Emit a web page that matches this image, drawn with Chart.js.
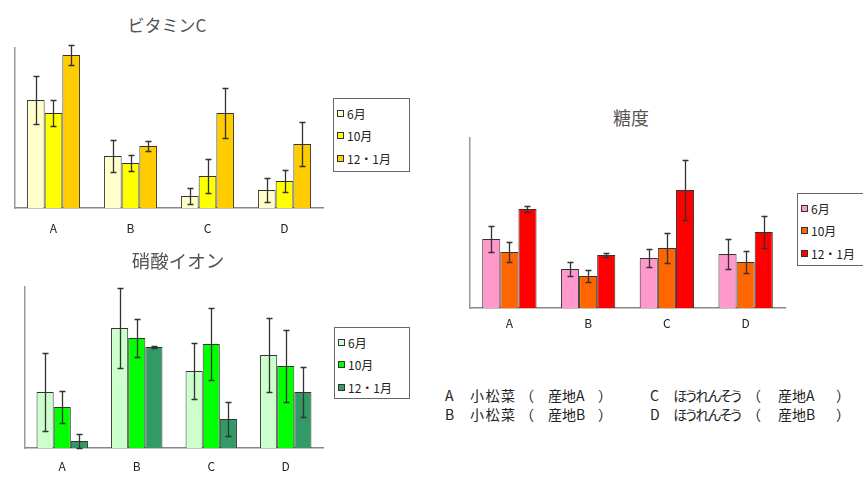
<!DOCTYPE html>
<html>
<head>
<meta charset="utf-8">
<script src="https://cdn.jsdelivr.net/npm/chart.js@4.4.1/dist/chart.umd.min.js"></script>
<style>
  body { margin: 0; background: #fff; }
  #page { position: relative; width: 863px; height: 479px; overflow: hidden; background: #fff;
          font-family: "Noto Sans CJK JP", sans-serif; color: #222; }
  .plot { position: absolute; }
  .title { position: absolute; font-size: 17px; color: #555; transform: translateX(-50%);
           white-space: nowrap; line-height: 1; }
  .legend { position: absolute; border: 1px solid #666; box-sizing: border-box;
            background: #fff; padding-top: 3px; }
  .legend .item { display: flex; align-items: center; font-size: 12px; height: 22.5px; white-space: nowrap; }
  .legend .sw { width: 7px; height: 7px; border: 1px solid #333; margin: 0 3px 0 3px; box-sizing: border-box; }
  .note { position: absolute; font-size: 14px; line-height: 1; white-space: nowrap; color: #222; }
  .kanji { letter-spacing: 1.5px; }
  .kana { font-feature-settings: "palt"; letter-spacing: -1.6px; }
</style>
</head>
<body>
<div id="page">
  <div class="title" style="left:167px;top:16px;">ビタミンC</div>
  <div class="plot" style="left:0;top:20px;width:330px;height:229px;"><canvas id="vc"></canvas></div>
  <div class="legend" id="vcLegend" style="left:333px;top:98px;width:77px;height:74px;"></div>

  <div class="title" style="left:178px;top:251px;font-size:18.5px;">硝酸イオン</div>
  <div class="plot" style="left:0;top:260px;width:330px;height:225px;"><canvas id="no3"></canvas></div>
  <div class="legend" id="no3Legend" style="left:334px;top:327px;width:76px;height:72px;"></div>

  <div class="title" style="left:631px;top:108px;font-size:18px;">糖度</div>
  <div class="plot" style="left:440px;top:110px;width:355px;height:229px;"><canvas id="brix"></canvas></div>
  <div class="legend" id="brixLegend" style="left:797px;top:193px;width:80px;height:73px;"></div>

  <div id="notes"></div>
</div>

<script>
// 品目（A〜D）と採取時期
const categories = ['A', 'B', 'C', 'D'];
const seasons = ['6月', '10月', '12・1月'];

// 凡例の説明文
const itemNames = ['小松菜', '小松菜', 'ほうれんそう', 'ほうれんそう'];
const origins = ['産地A', '産地B', '産地A', '産地B'];

// ビタミンC（目盛なし、相対値）
const vcJune = [108, 52, 12, 18];
const vcOct = [95, 45, 32, 27];
const vcDec = [153, 62, 95, 64];
const vcJuneErr = [24, 16, 8, 12];
const vcOctErr = [13, 8, 17, 11];
const vcDecErr = [10, 5, 25, 22];

// 硝酸イオン
const no3June = [56, 120, 77, 93];
const no3Oct = [41, 110, 104, 82];
const no3Dec = [7, 101, 29, 56];
const no3JuneErr = [39, 40, 28, 37];
const no3OctErr = [16, 19, 36, 36];
const no3DecErr = [7, 1, 17, 25];

// 糖度
const brixJune = [69, 39, 50, 54];
const brixOct = [56, 32, 60, 46];
const brixDec = [99, 53, 118, 76];
const brixJuneErr = [13, 7, 9, 15];
const brixOctErr = [10, 6, 15, 11];
const brixDecErr = [3, 2, 30, 16];

const vcColors = ['#FFFFCC', '#FFFF00', '#FFCC00'];
const no3Colors = ['#CCFFCC', '#00FF00', '#339966'];
const brixColors = ['#FF99CC', '#FF6600', '#FF0000'];

// 誤差棒（dataset.errors を y スケールで描画）
const errorBars = {
    id: 'errorBars',
    afterDatasetsDraw(chart) {
        const ctx = chart.ctx;
        const y = chart.scales.y;
        ctx.save();
        ctx.strokeStyle = '#333';
        ctx.lineWidth = 1.3;
        chart.data.datasets.forEach((ds, i) => {
            chart.getDatasetMeta(i).data.forEach((bar, j) => {
                const v = ds.data[j], e = ds.errors[j];
                const top = Math.round(y.getPixelForValue(v + e)) + 0.5;
                const bot = Math.round(y.getPixelForValue(Math.max(0, v - e))) + 0.5;
                const x = Math.round(bar.x) + 0.5;
                ctx.beginPath();
                ctx.moveTo(x, top); ctx.lineTo(x, bot);
                ctx.moveTo(x - 3, top); ctx.lineTo(x + 3, top);
                ctx.moveTo(x - 3, bot); ctx.lineTo(x + 3, bot);
                ctx.stroke();
            });
        });
        ctx.restore();
    }
};

function buildLegend(id, colors) {
    const box = document.getElementById(id);
    seasons.forEach((s, i) => {
        const row = document.createElement('div');
        row.className = 'item';
        row.innerHTML = `<span class="sw" style="background:${colors[i]}"></span>${s}`;
        box.appendChild(row);
    });
}

function buildNotes() {
    const host = document.getElementById('notes');
    // 列ごとの x 位置: 記号, 品目名, （, 産地, ）
    const cols = [[445, 470, 520, 548, 598], [650, 673, 747, 778, 836]];
    categories.forEach((c, i) => {
        const col = Math.floor(i / 2);
        const xs = cols[col];
        const top = 388 + (i % 2) * 19;
        const parts = [c, itemNames[i], '（', origins[i], '）'];
        parts.forEach((p, k) => {
            const s = document.createElement('span');
            s.className = 'note' + (k === 1 ? (col ? ' kana' : ' kanji') : '');
            s.style.left = xs[k] + 'px';
            s.style.top = top + 'px';
            s.textContent = p;
            host.appendChild(s);
        });
    });
}

function makeChart(id, values, errors, colors, yMax, pad, labelPad) {
    const datasets = seasons.map((s, i) => ({
        label: s,
        data: values[i],
        errors: errors[i],
        backgroundColor: colors[i],
        borderColor: '#333',
        borderWidth: 1,
        borderSkipped: 'bottom',
        categoryPercentage: 0.69,
        barPercentage: 1.0
    }));
    return new Chart(document.getElementById(id), {
        type: 'bar',
        data: { labels: categories, datasets },
        plugins: [errorBars],
        options: {
            responsive: true,
            maintainAspectRatio: false,
            animation: false,
            layout: { padding: pad },
            plugins: { legend: { display: false }, title: { display: false }, tooltip: { enabled: false } },
            scales: {
                x: {
                    grid: { display: false, drawTicks: false },
                    border: { display: true, color: '#888', width: 1.5 },
                    ticks: { color: '#222', padding: labelPad, font: { family: "'Noto Sans CJK JP', sans-serif", size: 12 } }
                },
                y: {
                    min: 0,
                    max: yMax,
                    grid: { display: false, drawTicks: false },
                    border: { display: true, color: '#999', width: 1.5 },
                    ticks: { display: false }
                }
            }
        }
    });
}

makeChart('vc', [vcJune, vcOct, vcDec], [vcJuneErr, vcOctErr, vcDecErr], vcColors, 160,
    { left: 15, right: 7, top: 28, bottom: 0.6 }, 13);
makeChart('no3', [no3June, no3Oct, no3Dec], [no3JuneErr, no3OctErr, no3DecErr], no3Colors, 161,
    { left: 25, right: 7, top: 27, bottom: 0.6 }, 11);
makeChart('brix', [brixJune, brixOct, brixDec], [brixJuneErr, brixOctErr, brixDecErr], brixColors, 170,
    { left: 30, right: 10, top: 28, bottom: 0.6 }, 8);

buildLegend('vcLegend', vcColors);
buildLegend('no3Legend', no3Colors);
buildLegend('brixLegend', brixColors);
buildNotes();
</script>
</body>
</html>
